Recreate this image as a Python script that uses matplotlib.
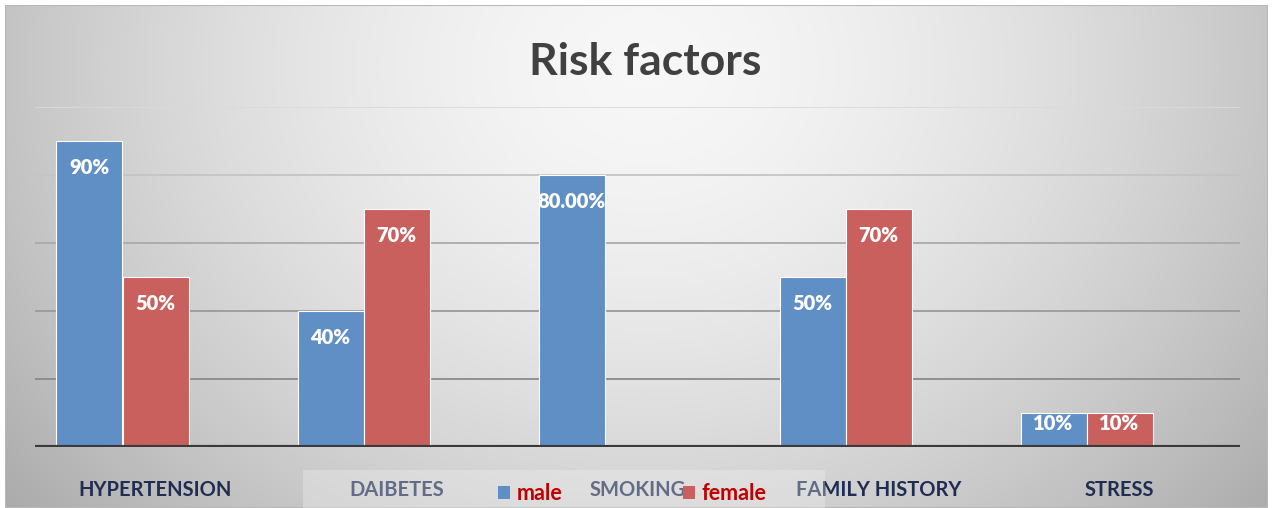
import numpy as np
import matplotlib
matplotlib.use("Agg")
import matplotlib.pyplot as plt
from matplotlib.patches import Rectangle, Patch

# data
categories = ["HYPERTENSION", "DAIBETES", "SMOKING", "FAMILY HISTORY", "STRESS"]
male = [90, 40, 80, 50, 10]
female = [50, 70, 0, 70, 10]
male_labels = ["90%", "40%", "80.00%", "50%", "10%"]
female_labels = ["50%", "70%", "", "70%", "10%"]
gridlines = [20, 40, 60, 80, 100]

blue = "#5f8fc5"
red = "#c9605e"
plt.rcParams['font.family'] = ['Lato', 'DejaVu Sans']

W, H = 1273, 508
fig = plt.figure(figsize=(W / 100, H / 100), dpi=100)
fig.patch.set_facecolor("white")

# gradient background (grey edges, light centre near the title)
bg = fig.add_axes([5 / W, 0, 1263 / W, 503 / H], zorder=-5)
xx, yy = np.meshgrid(np.linspace(0, 1263, 400), np.linspace(0, 503, 200))
d = np.sqrt(((xx - 640) / 660) ** 2 + ((yy - 60) / 560) ** 2)
g = np.clip(0.97 - 0.21 * d ** 1.6, 0, 1)
bg.imshow(np.dstack([g, g, g]), aspect="auto", extent=[0, 1, 0, 1])
bg.set_axis_off()
bg.add_patch(Rectangle((0, 0), 1, 1, transform=bg.transAxes, fill=False,
                       edgecolor="#b8b8b8", lw=1.5))

ax = fig.add_axes([35 / W, 61 / H, 1205 / W, 340 / H])
ax.set_facecolor("none")
x = np.arange(len(categories))
w = 66 / 241

# gridlines fade toward the top
grid_cols = ["#8a8a8a", "#9a9a9a", "#aaaaaa", "#c4c4c4", "#dadada"]
for gv, gc in zip(gridlines, grid_cols):
    ax.axhline(gv, color=gc, lw=1.3, zorder=0)

# third (empty) series slot keeps the pair left of the category centre
ax.bar(x - w, male, w, color=blue, edgecolor="white", lw=0.8, zorder=2)
ax.bar(x, female, w, color=red, edgecolor="white", lw=0.8, zorder=2)

for i in range(len(categories)):
    for xs, v, lab in [(x[i] - w, male[i], male_labels[i]),
                       (x[i], female[i], female_labels[i])]:
        if not lab:
            continue
        off = min(27, v * 3.4 * 0.3)
        ax.annotate(lab, (xs, v), xytext=(0, -off * 0.72), textcoords="offset points",
                    ha="center", va="center", color="white", fontsize=14.5,
                    fontweight="heavy", zorder=3)

ax.axhline(0, color="#3a3a3a", lw=3, zorder=4)
ax.set_xlim(-0.5, len(categories) - 0.5)
ax.set_ylim(0, 100)
ax.set_yticks([])
ax.set_xticks(x)
ax.set_xticklabels(categories, fontsize=14.5, fontweight="bold", color="#1f2d52")
ax.tick_params(axis="x", length=0, pad=24)
for s in ax.spines.values():
    s.set_visible(False)

fig.text(645 / W, 1 - 62 / H, "Risk factors", ha="center", va="center",
         fontsize=32, fontweight="bold", color="#404040")

# translucent legend box over the category labels
fig.patches.append(Rectangle((303 / W, 0), 522 / W, 38 / H, transform=fig.transFigure,
                             facecolor="#f4f4f4", alpha=0.32, edgecolor="none", zorder=1))
handles = [Patch(facecolor=blue, label="male"), Patch(facecolor=red, label="female")]
leg = fig.legend(handles=handles, loc="center", bbox_to_anchor=(632 / W, 1 - 494 / H),
                 ncol=2, frameon=False, handlelength=0.55, handleheight=0.55,
                 handletextpad=0.3, columnspacing=5.6,
                 prop={"family": "Lato", "weight": "bold", "size": 15.5})
for t in leg.get_texts():
    t.set_color("#c00000")
leg.set_zorder(6)

fig.savefig("out.png", dpi=100)
